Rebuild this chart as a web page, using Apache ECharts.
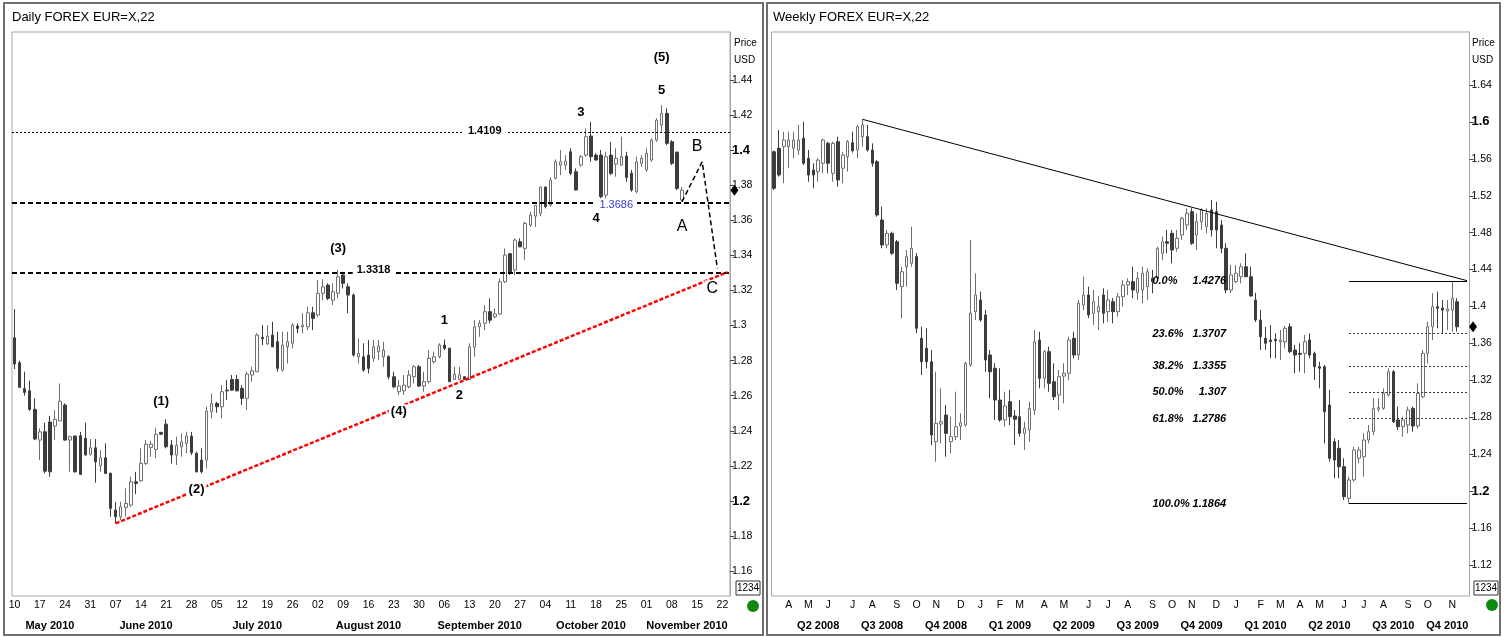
<!DOCTYPE html>
<html>
<head>
<meta charset="utf-8">
<title>EUR=X daily / weekly</title>
<script src="https://cdn.jsdelivr.net/npm/echarts@6/dist/echarts.min.js"></script>
<style>
  html, body { margin: 0; padding: 0; background: #fff; }
  #chart { width: 1504px; height: 637px; }
</style>
</head>
<body>
<div id="chart"></div>
<script>
// ---- daily data (May 10 .. Nov 10 2010), [open, close, low, high]
var dailyStart = '2010-05-10'
var dailySlots = 142
var dailyOHLC = [
  [1.2930, 1.2781, 1.2752, 1.3094], [1.2788, 1.2648, 1.2645, 1.2800], [1.2640, 1.2619, 1.2600, 1.2737],
  [1.2628, 1.2522, 1.2514, 1.2685], [1.2522, 1.2353, 1.2347, 1.2585], [1.2347, 1.2394, 1.2233, 1.2414],
  [1.2394, 1.2170, 1.2157, 1.2446], [1.2450, 1.2166, 1.2138, 1.2484], [1.2427, 1.2465, 1.2347, 1.2518],
  [1.2457, 1.2569, 1.2455, 1.2670], [1.2547, 1.2347, 1.2343, 1.2556], [1.2347, 1.2366, 1.2166, 1.2372],
  [1.2370, 1.2166, 1.2163, 1.2372], [1.2372, 1.2151, 1.2148, 1.2394], [1.2357, 1.2262, 1.2260, 1.2446],
  [1.2266, 1.2303, 1.2258, 1.2353], [1.2303, 1.2223, 1.2104, 1.2353], [1.2201, 1.2246, 1.2166, 1.2290],
  [1.2246, 1.2157, 1.2155, 1.2328], [1.2158, 1.1958, 1.1910, 1.2161], [1.1948, 1.1910, 1.1872, 1.1995],
  [1.1910, 1.1967, 1.1891, 1.1995], [1.1963, 1.1986, 1.1910, 1.2072], [1.1976, 1.2109, 1.1967, 1.2138],
  [1.2109, 1.2100, 1.2039, 1.2166], [1.2115, 1.2214, 1.2109, 1.2300], [1.2214, 1.2323, 1.2205, 1.2347],
  [1.2305, 1.2324, 1.2252, 1.2343], [1.2294, 1.2380, 1.2243, 1.2417], [1.2391, 1.2381, 1.2376, 1.2394],
  [1.2438, 1.2309, 1.2300, 1.2465], [1.2319, 1.2262, 1.2214, 1.2347], [1.2262, 1.2317, 1.2205, 1.2366],
  [1.2309, 1.2337, 1.2252, 1.2385], [1.2328, 1.2370, 1.2271, 1.2394], [1.2370, 1.2275, 1.2262, 1.2394],
  [1.2271, 1.2166, 1.2163, 1.2280], [1.2233, 1.2166, 1.2157, 1.2300], [1.2233, 1.2512, 1.2186, 1.2537],
  [1.2509, 1.2556, 1.2471, 1.2613], [1.2556, 1.2537, 1.2503, 1.2565], [1.2537, 1.2623, 1.2471, 1.2661],
  [1.2632, 1.2628, 1.2575, 1.2689], [1.2693, 1.2632, 1.2628, 1.2718], [1.2693, 1.2628, 1.2625, 1.2718],
  [1.2642, 1.2585, 1.2547, 1.2661], [1.2585, 1.2723, 1.2518, 1.2737], [1.2718, 1.2742, 1.2680, 1.2765],
  [1.2737, 1.2946, 1.2735, 1.2956], [1.2933, 1.2925, 1.2889, 1.3003], [1.2895, 1.2940, 1.2889, 1.3003],
  [1.2946, 1.2879, 1.2877, 1.3022], [1.2908, 1.2756, 1.2737, 1.2965], [1.2746, 1.2889, 1.2737, 1.2965],
  [1.2879, 1.2908, 1.2784, 1.2965], [1.2899, 1.3003, 1.2870, 1.3013], [1.2997, 1.2984, 1.2956, 1.3013],
  [1.2993, 1.3003, 1.2956, 1.3070], [1.2993, 1.3073, 1.2974, 1.3107], [1.3073, 1.3041, 1.2974, 1.3107],
  [1.3060, 1.3184, 1.3050, 1.3260], [1.3184, 1.3221, 1.3145, 1.3264], [1.3231, 1.3155, 1.3145, 1.3241],
  [1.3145, 1.3193, 1.3117, 1.3241], [1.3184, 1.3278, 1.3155, 1.3318], [1.3288, 1.3241, 1.3212, 1.3307],
  [1.3221, 1.3174, 1.3070, 1.3241], [1.3174, 1.2832, 1.2822, 1.3184], [1.2822, 1.2841, 1.2784, 1.2927],
  [1.2822, 1.2746, 1.2737, 1.2899], [1.2832, 1.2756, 1.2727, 1.2917], [1.2813, 1.2879, 1.2794, 1.2917],
  [1.2851, 1.2883, 1.2803, 1.2917], [1.2822, 1.2860, 1.2765, 1.2908], [1.2824, 1.2708, 1.2693, 1.2830],
  [1.2708, 1.2651, 1.2642, 1.2737], [1.2623, 1.2655, 1.2604, 1.2689], [1.2628, 1.2661, 1.2604, 1.2718],
  [1.2651, 1.2718, 1.2642, 1.2746], [1.2708, 1.2765, 1.2670, 1.2775], [1.2765, 1.2655, 1.2651, 1.2775],
  [1.2655, 1.2680, 1.2623, 1.2737], [1.2680, 1.2813, 1.2670, 1.2860], [1.2794, 1.2822, 1.2784, 1.2851],
  [1.2822, 1.2889, 1.2813, 1.2899], [1.2889, 1.2870, 1.2860, 1.2921], [1.2871, 1.2680, 1.2678, 1.2873],
  [1.2693, 1.2722, 1.2689, 1.2765], [1.2693, 1.2720, 1.2689, 1.2765], [1.2708, 1.2693, 1.2689, 1.2712],
  [1.2693, 1.2879, 1.2689, 1.2899], [1.2876, 1.2993, 1.2822, 1.3031], [1.2993, 1.3013, 1.2936, 1.3031],
  [1.3013, 1.3079, 1.2974, 1.3117], [1.3079, 1.3031, 1.3013, 1.3155], [1.3050, 1.3066, 1.3041, 1.3098],
  [1.3066, 1.3250, 1.3060, 1.3269], [1.3250, 1.3402, 1.3244, 1.3440], [1.3410, 1.3298, 1.3288, 1.3412],
  [1.3317, 1.3488, 1.3288, 1.3497], [1.3478, 1.3449, 1.3447, 1.3497], [1.3440, 1.3583, 1.3374, 1.3592],
  [1.3573, 1.3630, 1.3563, 1.3649], [1.3624, 1.3685, 1.3563, 1.3687], [1.3640, 1.3790, 1.3624, 1.3792],
  [1.3790, 1.3678, 1.3668, 1.3792], [1.3687, 1.3830, 1.3678, 1.3845], [1.3839, 1.3934, 1.3834, 1.3948],
  [1.3915, 1.3934, 1.3858, 1.4001], [1.3915, 1.3938, 1.3887, 1.3972], [1.3991, 1.3868, 1.3858, 1.4011],
  [1.3877, 1.3773, 1.3770, 1.3896], [1.3915, 1.3963, 1.3906, 1.3972], [1.3972, 1.4077, 1.3963, 1.4125],
  [1.4081, 1.3963, 1.3934, 1.4162], [1.3972, 1.3944, 1.3940, 1.3982], [1.3972, 1.3735, 1.3725, 1.4001],
  [1.3744, 1.3963, 1.3725, 1.3991], [1.3972, 1.3868, 1.3858, 1.4048], [1.3921, 1.3953, 1.3849, 1.4011],
  [1.3915, 1.3963, 1.3912, 1.4077], [1.3967, 1.3845, 1.3820, 1.3991], [1.3868, 1.3773, 1.3763, 1.3887],
  [1.3763, 1.3934, 1.3754, 1.3963], [1.3925, 1.3953, 1.3906, 1.3972], [1.3887, 1.3982, 1.3877, 1.4011],
  [1.3944, 1.4058, 1.3934, 1.4068], [1.4058, 1.4172, 1.4048, 1.4182], [1.4143, 1.4210, 1.4105, 1.4257],
  [1.4210, 1.4039, 1.4029, 1.4239], [1.4048, 1.3925, 1.3915, 1.4058], [1.3989, 1.3782, 1.3773, 1.3991],
  [1.3716, 1.3772, 1.3706, 1.3790]
]
var dailyMin = 1.1458
var dailyMax = 1.4674
var dailyTicks = [1.16, 1.18, 1.2, 1.22, 1.24, 1.26, 1.28, 1.3, 1.32, 1.34, 1.36, 1.38, 1.4, 1.42, 1.44]
var dailyMajor = [1.2, 1.4]
var dailyLevels = [1.4109, 1.3686, 1.3318]
var dailyTrend = [[20, 1.1872], [141, 1.3305]]
var abcPath = [[132, 1.3706], [136, 1.3934], [139, 1.3326]]
// wave labels: text, day index, price
var waveBig = [['(1)', 29, 1.2566], ['(2)', 36, 1.2066], ['(3)', 64, 1.3440], ['(4)', 76, 1.2508], ['(5)', 128, 1.4529]]
var waveSmall = [['1', 85, 1.3031], ['2', 88, 1.2604], ['3', 112, 1.4214], ['4', 115, 1.3611], ['5', 128, 1.4343]]
var waveAbc = [['A', 132, 1.3567], ['B', 135, 1.4020], ['C', 138, 1.3212]]
var levelTextIdx = [93, 119, 71]

// ---- weekly data (weeks from Mar 16 2008), [open, close, low, high]
var weeklyStart = '2008-03-16'
var weeklySlots = 142
var weeklyOHLC = [
  [1.5677, 1.5281, 1.5262, 1.5690], [1.5714, 1.5425, 1.5407, 1.5912], [1.5732, 1.5804, 1.5335, 1.5894],
  [1.5732, 1.5804, 1.5498, 1.5894], [1.5714, 1.5804, 1.5606, 1.5894], [1.5696, 1.5804, 1.5642, 1.5967],
  [1.5823, 1.5552, 1.5533, 1.6002], [1.5606, 1.5425, 1.5352, 1.5696], [1.5479, 1.5425, 1.5281, 1.5552],
  [1.5461, 1.5587, 1.5352, 1.5606], [1.5552, 1.5804, 1.5443, 1.5820], [1.5768, 1.5552, 1.5443, 1.5786],
  [1.5443, 1.5768, 1.5352, 1.5786], [1.5786, 1.5371, 1.5298, 1.5840], [1.5498, 1.5642, 1.5335, 1.5677],
  [1.5623, 1.5786, 1.5461, 1.5804], [1.5775, 1.5688, 1.5667, 1.5894], [1.5696, 1.5948, 1.5606, 1.5967],
  [1.5840, 1.5967, 1.5732, 1.6028], [1.5840, 1.5696, 1.5680, 1.5967], [1.5696, 1.5552, 1.5515, 1.5768],
  [1.5569, 1.4992, 1.4973, 1.5587], [1.4937, 1.4667, 1.4631, 1.5082], [1.4667, 1.4793, 1.4631, 1.4829],
  [1.4793, 1.4577, 1.4558, 1.4811], [1.4702, 1.4252, 1.4179, 1.4721], [1.4215, 1.4377, 1.3872, 1.4431],
  [1.4431, 1.4540, 1.4215, 1.4612], [1.4468, 1.4631, 1.4431, 1.4865], [1.4540, 1.3764, 1.3710, 1.4580],
  [1.3656, 1.3402, 1.3258, 1.3781], [1.3547, 1.3402, 1.3331, 1.3764], [1.3402, 1.2608, 1.2500, 1.3529],
  [1.2536, 1.2735, 1.2319, 1.3294], [1.2727, 1.2752, 1.2518, 1.3114], [1.2825, 1.2626, 1.2373, 1.2933],
  [1.2536, 1.2590, 1.2410, 1.2806], [1.2590, 1.2698, 1.2554, 1.3077], [1.2706, 1.2741, 1.2554, 1.2843],
  [1.2716, 1.3385, 1.2698, 1.3402], [1.3367, 1.3927, 1.3348, 1.4721], [1.3944, 1.4125, 1.3854, 1.4360],
  [1.4071, 1.3854, 1.3836, 1.4161], [1.3908, 1.3421, 1.3294, 1.3962], [1.3475, 1.3294, 1.3006, 1.3529],
  [1.3331, 1.2987, 1.2771, 1.3385], [1.2987, 1.2771, 1.2752, 1.3331], [1.2771, 1.2922, 1.2698, 1.3077],
  [1.2969, 1.2806, 1.2716, 1.3096], [1.2814, 1.2778, 1.2500, 1.2879], [1.2806, 1.2626, 1.2590, 1.2987],
  [1.2626, 1.2681, 1.2446, 1.2752], [1.2662, 1.2897, 1.2536, 1.2969], [1.2879, 1.3619, 1.2825, 1.3746],
  [1.3637, 1.3222, 1.3114, 1.3727], [1.3222, 1.3511, 1.3114, 1.3529], [1.3511, 1.3168, 1.3077, 1.3565],
  [1.3186, 1.3023, 1.2987, 1.3385], [1.3041, 1.3240, 1.2879, 1.3312], [1.3247, 1.3277, 1.2952, 1.3385],
  [1.3277, 1.3637, 1.3204, 1.3673], [1.3656, 1.3475, 1.3439, 1.3727], [1.3475, 1.4035, 1.3421, 1.4071],
  [1.4017, 1.4125, 1.3962, 1.4323], [1.4125, 1.3908, 1.3876, 1.4215], [1.3927, 1.4052, 1.3800, 1.4179],
  [1.3944, 1.3998, 1.3746, 1.4114], [1.4125, 1.3927, 1.3818, 1.4197], [1.3944, 1.4071, 1.3836, 1.4179],
  [1.4052, 1.3944, 1.3818, 1.4092], [1.3944, 1.4106, 1.3890, 1.4147], [1.4106, 1.4233, 1.3998, 1.4287],
  [1.4233, 1.4269, 1.4125, 1.4306], [1.4269, 1.4179, 1.4089, 1.4431], [1.4150, 1.4306, 1.4071, 1.4374],
  [1.4179, 1.4360, 1.4035, 1.4431], [1.4215, 1.4377, 1.4071, 1.4414], [1.4306, 1.4269, 1.4143, 1.4396],
  [1.4306, 1.4631, 1.4287, 1.4648], [1.4577, 1.4702, 1.4504, 1.4757], [1.4702, 1.4685, 1.4577, 1.4829],
  [1.4793, 1.4612, 1.4468, 1.4829], [1.4631, 1.4739, 1.4594, 1.4829], [1.4775, 1.4956, 1.4721, 1.4973],
  [1.4883, 1.5010, 1.4829, 1.5064], [1.5027, 1.4685, 1.4667, 1.5064], [1.4775, 1.4919, 1.4612, 1.5010],
  [1.4919, 1.5046, 1.4829, 1.5064], [1.4865, 1.5010, 1.4793, 1.5064], [1.5046, 1.4829, 1.4757, 1.5154],
  [1.5027, 1.4829, 1.4631, 1.5136], [1.4883, 1.4631, 1.4577, 1.4937], [1.4631, 1.4179, 1.4143, 1.4685],
  [1.4179, 1.4342, 1.4147, 1.4450], [1.4269, 1.4360, 1.4252, 1.4450], [1.4323, 1.4431, 1.4252, 1.4468],
  [1.4431, 1.4323, 1.4318, 1.4577], [1.4323, 1.4114, 1.4110, 1.4431], [1.4071, 1.3854, 1.3832, 1.4147],
  [1.3854, 1.3673, 1.3529, 1.3962], [1.3656, 1.3602, 1.3529, 1.3781], [1.3637, 1.3619, 1.3439, 1.3800],
  [1.3645, 1.3630, 1.3439, 1.3710], [1.3619, 1.3637, 1.3421, 1.3746], [1.3619, 1.3764, 1.3547, 1.3789],
  [1.3781, 1.3511, 1.3493, 1.3818], [1.3529, 1.3475, 1.3277, 1.3583], [1.3493, 1.3482, 1.3294, 1.3602],
  [1.3493, 1.3619, 1.3277, 1.3692], [1.3637, 1.3475, 1.3439, 1.3710], [1.3493, 1.3348, 1.3204, 1.3511],
  [1.3348, 1.3331, 1.3114, 1.3402], [1.3348, 1.2861, 1.2518, 1.3367], [1.2933, 1.2356, 1.2319, 1.3096],
  [1.2536, 1.2337, 1.2139, 1.2572], [1.2464, 1.2265, 1.2139, 1.2554], [1.2265, 1.1940, 1.1904, 1.2356],
  [1.1922, 1.2121, 1.1864, 1.2156], [1.2121, 1.2446, 1.2102, 1.2481], [1.2356, 1.2446, 1.2302, 1.2481],
  [1.2373, 1.2554, 1.2156, 1.2626], [1.2554, 1.2644, 1.2518, 1.2716], [1.2644, 1.2897, 1.2608, 1.3006],
  [1.2887, 1.2904, 1.2861, 1.3006], [1.2897, 1.3060, 1.2879, 1.3114], [1.3041, 1.3294, 1.3023, 1.3331],
  [1.3294, 1.2752, 1.2738, 1.3312], [1.2771, 1.2698, 1.2662, 1.2915], [1.2698, 1.2771, 1.2590, 1.2806],
  [1.2716, 1.2879, 1.2626, 1.2915], [1.2897, 1.2706, 1.2644, 1.2915], [1.2706, 1.3060, 1.2681, 1.3168],
  [1.3023, 1.3493, 1.3006, 1.3529], [1.3493, 1.3781, 1.3385, 1.3836], [1.3781, 1.3998, 1.3637, 1.4143],
  [1.3998, 1.3981, 1.3764, 1.4161], [1.3984, 1.3962, 1.3710, 1.4071], [1.3952, 1.3973, 1.3746, 1.4071],
  [1.3962, 1.4089, 1.3727, 1.4276], [1.4052, 1.3781, 1.3727, 1.4092]
]
var weeklyMin = 1.0864
var weeklyMax = 1.6974
var weeklyTicks = [1.12, 1.16, 1.2, 1.24, 1.28, 1.32, 1.36, 1.4, 1.44, 1.48, 1.52, 1.56, 1.6, 1.64]
var weeklyMajor = [1.2, 1.6]
var weeklyTrend = [[18, 1.6028], [141, 1.428]]
var fibPct = ['0.0%', '23.6%', '38.2%', '50.0%', '61.8%', '100.0%']
var fibLevel = [1.4276, 1.3707, 1.3355, 1.307, 1.2786, 1.1864]
var fibFrom = 117
var fibPctIdx = 77
var fibValIdx = 92

var FONT = "'Liberation Sans', Arial, sans-serif"
var MONTHS = ['January', 'February', 'March', 'April', 'May', 'June', 'July', 'August', 'September', 'October', 'November', 'December']

function weekdayDates(start, count) {
  var out = []
  var d = new Date(start + 'T00:00:00Z')
  while (out.length < count) {
    var wd = d.getUTCDay()
    if (wd > 0 && wd < 6) out.push(d.toISOString().slice(0, 10))
    d.setUTCDate(d.getUTCDate() + 1)
  }
  return out
}
function weekDates(start, count) {
  var out = []
  var d = new Date(start + 'T00:00:00Z')
  for (var k = 0; k < count; k++) {
    out.push(d.toISOString().slice(0, 10))
    d.setUTCDate(d.getUTCDate() + 7)
  }
  return out
}
function monthOf(s) { return +s.slice(5, 7) - 1 }
function segStarts(dates, key) {
  var st = []
  for (var i = 1; i < dates.length; i++) if (key(dates[i]) !== key(dates[i - 1])) st.push(i)
  return st
}
function segMids(dates, starts, minLen) {
  var b = [0].concat(starts, [dates.length])
  var mids = []
  for (var k = 0; k < b.length - 1; k++) {
    if (b[k + 1] - b[k] >= minLen) mids.push(Math.floor((b[k] + b[k + 1] - 1) / 2))
  }
  return mids
}

var dailyDates = weekdayDates(dailyStart, dailySlots)
var weeklyDates = weekDates(weeklyStart, weeklySlots)
var monthKey = function (s) { return s.slice(0, 7) }
var quarterKey = function (s) { return s.slice(0, 4) + Math.floor(monthOf(s) / 3) }
var dMonthStarts = segStarts(dailyDates, monthKey)
var dMonthMids = segMids(dailyDates, dMonthStarts, 8)
var wMonthStarts = segStarts(weeklyDates, monthKey)
var wQuarterStarts = segStarts(weeklyDates, quarterKey)
var wQuarterMids = segMids(weeklyDates, wQuarterStarts, 8)
function isMonday(s) { return new Date(s + 'T00:00:00Z').getUTCDay() === 1 }
function has(arr, i) { return arr.indexOf(i) >= 0 }

function priceLabel(major) {
  return function (v) {
    var r = +v.toFixed(2)
    return has(major, r) ? '{b|' + r + '}' : String(r)
  }
}

var txt = { fontFamily: FONT, color: '#000' }

// daily markers
var dailyMarks = []
waveBig.forEach(function (w) {
  dailyMarks.push({ name: w[0], coord: [w[1], w[2]], label: { fontSize: 13, fontWeight: 'bold', backgroundColor: '#fff', padding: [1, 2] } })
})
waveSmall.forEach(function (w) {
  dailyMarks.push({ name: w[0], coord: [w[1], w[2]], label: { fontSize: 13, fontWeight: 'bold', backgroundColor: '#fff', padding: [1, 2] } })
})
waveAbc.forEach(function (w) {
  dailyMarks.push({ name: w[0], coord: [w[1], w[2]], label: { fontSize: 16, backgroundColor: '#fff', padding: [0, 2] } })
})
dailyLevels.forEach(function (lv, k) {
  var blue = k === 1
  dailyMarks.push({ name: String(lv), coord: [levelTextIdx[k], lv], label: { fontSize: 11, fontWeight: blue ? 'normal' : 'bold', color: blue ? '#3a3ad0' : '#000', backgroundColor: '#fff', padding: [1, 4] } })
})
var dLast = dailyOHLC[dailyOHLC.length - 1][1]
dailyMarks.push({ name: '', coord: [dailySlots - 1, dLast], symbol: 'diamond', symbolSize: [8, 11], symbolOffset: [7, 0], itemStyle: { color: '#000' }, label: { show: false } })

var dailyLines = [
  { yAxis: dailyLevels[0], lineStyle: { color: '#000', width: 1, type: [2, 2] } },
  { yAxis: dailyLevels[1], lineStyle: { color: '#000', width: 2, type: [5, 3] } },
  { yAxis: dailyLevels[2], lineStyle: { color: '#000', width: 2, type: [5, 3] } },
  [{ coord: dailyTrend[0], lineStyle: { color: '#f00', width: 2.5, type: [4, 2] } }, { coord: dailyTrend[1] }]
]

// weekly markers: percent left-aligned, level value right-aligned
var weeklyMarks = []
fibLevel.forEach(function (lv, k) {
  var base = { fontSize: 11, fontWeight: 'bold', fontStyle: 'italic', distance: 0 }
  weeklyMarks.push({ name: fibPct[k], coord: [fibPctIdx, lv], label: Object.assign({ position: 'right' }, base) })
  weeklyMarks.push({ name: String(lv), coord: [fibValIdx, lv], label: Object.assign({ position: 'left' }, base) })
})
var wLast = weeklyOHLC[weeklyOHLC.length - 1][1]
weeklyMarks.push({ name: '', coord: [weeklySlots - 1, wLast], symbol: 'diamond', symbolSize: [8, 11], symbolOffset: [6, 0], itemStyle: { color: '#000' }, label: { show: false } })

var weeklyLines = [[{ coord: weeklyTrend[0], lineStyle: { color: '#000', width: 1, type: 'solid' } }, { coord: weeklyTrend[1] }]]
fibLevel.forEach(function (lv, k) {
  var solid = k === 0 || k === fibLevel.length - 1
  weeklyLines.push([{ coord: [fibFrom, lv], lineStyle: { color: solid ? '#000' : '#333', width: 1, type: solid ? 'solid' : [2, 2] } }, { coord: [weeklySlots - 1, lv] }])
})

var candleStyle = { color: '#fff', color0: '#3c3c3c', borderColor: '#6e6e6e', borderColor0: '#3c3c3c', borderWidth: 1 }

var chart = echarts.init(document.getElementById('chart'))
var option = {
  animation: false,
  backgroundColor: '#fff',
  textStyle: { fontFamily: FONT },
  grid: [
    { left: 12, top: 32, width: 718, height: 564, show: true, borderColor: '#a5a5a5', borderWidth: 1, backgroundColor: '#fff' },
    { left: 771.5, top: 32, width: 698, height: 564, show: true, borderColor: '#a5a5a5', borderWidth: 1, backgroundColor: '#fff' }
  ],
  xAxis: [
    {
      type: 'category', gridIndex: 0, data: dailyDates, boundaryGap: true,
      axisLine: { show: false },
      axisTick: { alignWithLabel: true, length: 4, lineStyle: { color: '#444' },
        interval: function (i, v) { return isMonday(v) || has(dMonthStarts, i) } },
      axisLabel: Object.assign({ fontSize: 10.5, margin: 4, interval: function (i, v) { return isMonday(v) },
        formatter: function (v) { return v.slice(8, 10) } }, txt),
      splitLine: { show: false }
    },
    {
      type: 'category', gridIndex: 0, data: dailyDates, boundaryGap: true, position: 'bottom', offset: 17,
      axisLine: { show: false },
      axisTick: { alignWithLabel: true, length: 20, lineStyle: { color: '#222' },
        interval: function (i) { return has(dMonthStarts, i) } },
      axisLabel: Object.assign({ fontSize: 11, fontWeight: 'bold', margin: 7, interval: function (i) { return has(dMonthMids, i) },
        formatter: function (v) { return MONTHS[monthOf(v)] + ' ' + v.slice(0, 4) } }, txt)
    },
    {
      type: 'category', gridIndex: 1, data: weeklyDates, boundaryGap: true,
      axisLine: { show: false },
      axisTick: { alignWithLabel: true, length: 4, lineStyle: { color: '#444' },
        interval: function (i) { return has(wMonthStarts, i) } },
      axisLabel: Object.assign({ fontSize: 10.5, margin: 4, interval: function (i) { return has(wMonthStarts, i) },
        formatter: function (v) { return 'JFMAMJJASOND'.charAt(monthOf(v)) } }, txt),
      splitLine: { show: false }
    },
    {
      type: 'category', gridIndex: 1, data: weeklyDates, boundaryGap: true, position: 'bottom', offset: 17,
      axisLine: { show: false },
      axisTick: { alignWithLabel: true, length: 20, lineStyle: { color: '#222' },
        interval: function (i) { return has(wQuarterStarts, i) } },
      axisLabel: Object.assign({ fontSize: 11, fontWeight: 'bold', margin: 7, interval: function (i) { return has(wQuarterMids, i) },
        formatter: function (v) { return 'Q' + (Math.floor(monthOf(v) / 3) + 1) + ' ' + v.slice(0, 4) } }, txt)
    }
  ],
  yAxis: [
    {
      type: 'value', gridIndex: 0, position: 'right', min: dailyMin, max: dailyMax,
      axisLine: { show: true, lineStyle: { color: '#a5a5a5' } },
      axisTick: { show: true, length: 4, customValues: dailyTicks, lineStyle: { color: '#444' } },
      axisLabel: Object.assign({ fontSize: 10.5, margin: 2, customValues: dailyTicks, formatter: priceLabel(dailyMajor),
        rich: { b: { fontSize: 13, fontWeight: 'bold', fontFamily: FONT, color: '#000' } } }, txt),
      splitLine: { show: false }
    },
    {
      type: 'value', gridIndex: 1, position: 'right', min: weeklyMin, max: weeklyMax,
      axisLine: { show: true, lineStyle: { color: '#a5a5a5' } },
      axisTick: { show: true, length: 4, customValues: weeklyTicks, lineStyle: { color: '#444' } },
      axisLabel: Object.assign({ fontSize: 10.5, margin: 2, customValues: weeklyTicks, formatter: priceLabel(weeklyMajor),
        rich: { b: { fontSize: 13, fontWeight: 'bold', fontFamily: FONT, color: '#000' } } }, txt),
      splitLine: { show: false }
    }
  ],
  series: [
    {
      name: 'Daily', type: 'candlestick', xAxisIndex: 0, yAxisIndex: 0, data: dailyOHLC, barWidth: 3,
      itemStyle: candleStyle,
      markLine: { symbol: ['none', 'none'], silent: true, label: { show: false }, data: dailyLines },
      markPoint: { z: 7, symbol: 'circle', symbolSize: 0, silent: true,
        label: { show: true, position: 'inside', formatter: '{b}', color: '#000', fontFamily: FONT },
        data: dailyMarks }
    },
    {
      name: 'ABC', type: 'line', xAxisIndex: 0, yAxisIndex: 0, data: abcPath, symbol: 'none', silent: true,
      lineStyle: { color: '#000', width: 1.5, type: [5, 3] }, z: 3
    },
    {
      name: 'Weekly', type: 'candlestick', xAxisIndex: 2, yAxisIndex: 1, data: weeklyOHLC, barWidth: 3,
      itemStyle: candleStyle,
      markLine: { symbol: ['none', 'none'], silent: true, label: { show: false }, data: weeklyLines },
      markPoint: { z: 7, symbol: 'circle', symbolSize: 0, silent: true,
        label: { show: true, formatter: '{b}', color: '#000', fontFamily: FONT },
        data: weeklyMarks }
    }
  ],
  graphic: [
    { type: 'rect', shape: { x: 4, y: 3, width: 759, height: 632 }, style: { fill: 'none', stroke: '#6f6f6f', lineWidth: 2 }, silent: true, z: 100 },
    { type: 'rect', shape: { x: 767, y: 3, width: 733, height: 632 }, style: { fill: 'none', stroke: '#6f6f6f', lineWidth: 2 }, silent: true, z: 100 },
    { type: 'text', x: 12, y: 17, style: { text: 'Daily FOREX EUR=X,22', font: '13px ' + FONT, fill: '#000', verticalAlign: 'middle' } },
    { type: 'text', x: 773, y: 17, style: { text: 'Weekly FOREX EUR=X,22', font: '13px ' + FONT, fill: '#000', verticalAlign: 'middle' } },
    { type: 'text', x: 734, y: 43, style: { text: 'Price', font: '10px ' + FONT, fill: '#000', verticalAlign: 'middle' } },
    { type: 'text', x: 734, y: 60, style: { text: 'USD', font: '10px ' + FONT, fill: '#000', verticalAlign: 'middle' } },
    { type: 'text', x: 1472, y: 43, style: { text: 'Price', font: '10px ' + FONT, fill: '#000', verticalAlign: 'middle' } },
    { type: 'text', x: 1472, y: 60, style: { text: 'USD', font: '10px ' + FONT, fill: '#000', verticalAlign: 'middle' } },
    { type: 'rect', shape: { x: 736, y: 581, width: 24, height: 14 }, style: { fill: '#fff', stroke: '#333', lineWidth: 1 } },
    { type: 'text', x: 748, y: 588, style: { text: '1234', font: '10px ' + FONT, fill: '#000', align: 'center', verticalAlign: 'middle' } },
    { type: 'rect', shape: { x: 1474, y: 581, width: 24, height: 14 }, style: { fill: '#fff', stroke: '#333', lineWidth: 1 } },
    { type: 'text', x: 1486, y: 588, style: { text: '1234', font: '10px ' + FONT, fill: '#000', align: 'center', verticalAlign: 'middle' } },
    { type: 'circle', shape: { cx: 753, cy: 606, r: 6 }, style: { fill: '#0d8a0d' } },
    { type: 'circle', shape: { cx: 1492, cy: 605, r: 6 }, style: { fill: '#0d8a0d' } }
  ]
}
chart.setOption(option)
</script>
</body>
</html>
